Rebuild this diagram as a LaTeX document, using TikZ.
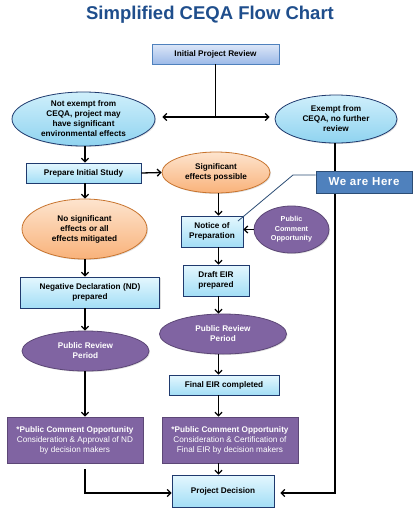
\documentclass[tikz,border=0pt]{standalone}
\usepackage{fontspec}
\setmainfont{Liberation Sans}
\usetikzlibrary{arrows.meta,shapes.geometric,shadows}

\definecolor{titleblue}{HTML}{1F4E8C}
\definecolor{navy}{HTML}{1F3A6E}
\definecolor{cyantop}{HTML}{E4F7FE}
\definecolor{cyanbot}{HTML}{A3DEF6}
\definecolor{inittop}{HTML}{DDE7F8}
\definecolor{initbot}{HTML}{9DBAE8}
\definecolor{initline}{HTML}{4F81BD}
\definecolor{skytop}{HTML}{CFEFFB}
\definecolor{skybot}{HTML}{8FD3F0}
\definecolor{orangetop}{HTML}{FDE4CE}
\definecolor{orangebot}{HTML}{F9B27A}
\definecolor{orangeline}{HTML}{C8742E}
\definecolor{plum}{HTML}{8064A2}
\definecolor{plumline}{HTML}{5C4776}
\definecolor{herefill}{HTML}{4F81BD}
\definecolor{hereline}{HTML}{2C4D75}

\tikzset{
  txt/.style={font=\fontsize{8.2}{10}\selectfont\bfseries, align=center, inner sep=0pt},
  shade/.style={drop shadow={opacity=0.25, shadow xshift=1pt, shadow yshift=-1pt}},
  cyanbox/.style={txt, shade, rectangle, draw=navy, line width=0.8pt, top color=cyantop, bottom color=cyanbot},
  initbox/.style={txt, shade, rectangle, draw=initline, line width=0.8pt, top color=inittop, bottom color=initbot},
  skyoval/.style={txt, shade, ellipse, draw=navy, line width=0.8pt, top color=skytop, bottom color=skybot},
  orangeoval/.style={txt, shade, ellipse, draw=orangeline, line width=0.8pt, top color=orangetop, bottom color=orangebot},
  plumoval/.style={txt, shade, ellipse, draw=plumline, line width=0.8pt, fill=plum, text=white},
  plumbox/.style={txt, shade, rectangle, draw=plumline, line width=0.8pt, fill=plum, text=white},
  herebox/.style={rectangle, draw=hereline, line width=0.8pt, fill=herefill, shade, inner sep=0pt, text=white,
                  font=\fontsize{11.5}{14}\selectfont\bfseries\addfontfeatures{LetterSpace=5}},
  tip/.tip={Straight Barb[length=3.5pt,width=7pt]},
  arr/.style={-tip, line width=1.3pt},
  line/.style={line width=1.3pt}
}

\begin{document}
\begin{tikzpicture}[x=1pt, y=-1pt]
    \useasboundingbox[fill=white] (0,0) rectangle (414,512);

    \node[font=\fontsize{18.5}{22}\selectfont\bfseries, text=titleblue] (title) at (210,15) {Simplified CEQA Flow Chart};

    \node[initbox, minimum width=127, minimum height=20] (init) at (215.5,54) {Initial Project Review};
    \node[skyoval, minimum width=143, minimum height=54] (notex) at (83.5,119) {Not exempt from\\CEQA, project may\\have significant\\environmental  effects};
    \node[skyoval, minimum width=122, minimum height=48] (exempt) at (336,119) {Exempt from\\CEQA, no further\\review};

    \node[cyanbox, minimum width=115, minimum height=20] (prep) at (83.5,173) {Prepare Initial  Study};
    \node[orangeoval, minimum width=108, minimum height=41] (signif) at (216,172.5) {Significant\\effects possible};
    \node[orangeoval, minimum width=125, minimum height=60] (nosig) at (84.5,229) {No significant\\effects  or all\\effects  mitigated};
    \node[cyanbox, minimum width=139, minimum height=31] (nd) at (90,292.5) {Negative Declaration  (ND)\\prepared};

    \node[cyanbox, minimum width=62, minimum height=31] (nop) at (212,231.5) {Notice of\\Preparation};
    \node[plumoval, minimum width=75, minimum height=47, font=\fontsize{7.2}{9.4}\selectfont\bfseries] (pco) at (291.5,229.5) {Public\\Comment\\Opportunity};

    \node[cyanbox, minimum width=66, minimum height=31] (draft) at (216,280.5) {Draft EIR\\prepared};
    \node[plumoval, minimum width=127, minimum height=40] (prl) at (85.5,351) {Public Review\\Period};
    \node[plumoval, minimum width=127, minimum height=40] (prr) at (223,334) {Public Review\\Period};
    \node[cyanbox, minimum width=110, minimum height=20] (final) at (224,385) {Final EIR completed};

    \node[plumbox, minimum width=136, minimum height=46] (cmtl) at (75,440)
        {*Public Comment Opportunity\\\mdseries Consideration  \& Approval of ND\\\mdseries by decision  makers};
    \node[plumbox, minimum width=136, minimum height=46] (cmtr) at (230,440)
        {*Public Comment Opportunity\\\mdseries Consideration  \& Certification of\\\mdseries Final EIR by decision makers};
    \node[cyanbox, minimum width=102, minimum height=32] (dec) at (223,491) {Project Decision};

    \coordinate (leftx) at (85,0);
    \coordinate (midx) at (218.5,0);
    \coordinate (rightx) at (335,0);
    \coordinate (split) at (215.5,117);
    \coordinate (lowleft) at (85,493);
    \coordinate (lowright) at (335,493);

    % top split
    \draw[line] (init.south) -- (split);
    \draw[line, tip-tip, shorten <=7pt, shorten >=5pt] (notex.east |- split) -- (exempt.west |- split);

    % left column
    \draw[arr] (notex.south -| leftx) -- (prep.north -| leftx);
    \draw[arr] (prep.south -| leftx) -- (nosig.north -| leftx);
    \draw[arr] (nosig.south -| leftx) -- (nd.north -| leftx);
    \draw[arr] (nd.south -| leftx) -- (prl.north -| leftx);
    \draw[arr] (prl.south -| leftx) -- (cmtl.north -| leftx);
    \draw[arr, shorten <=6pt] (cmtl.south -| leftx) -- (lowleft) -- (lowleft -| dec.west);

    % middle column
    \draw[arr] (prep.east) -- (signif.west);
    \draw[arr] (signif.south -| midx) -- (nop.north -| midx);
    \draw[arr] (pco.west) -- (nop.east |- pco.west);
    \draw[arr] (nop.south -| midx) -- (draft.north -| midx);
    \draw[arr] (draft.south -| midx) -- (prr.north -| midx);
    \draw[arr] (prr.south -| midx) -- (final.north -| midx);
    \draw[arr] (final.south -| midx) -- (cmtr.north -| midx);
    \draw[arr] (cmtr.south -| midx) -- (dec.north -| midx);

    % right column
    \draw[arr, shorten >=6pt] (exempt.south -| rightx) -- (lowright) -- (lowright -| dec.east);

    % callout, drawn last so it covers the right line
    \node[herebox, minimum width=96, minimum height=22] (here) at (364,182) {We are Here};
    \draw[hereline, line width=0.8pt] (here.west |- 0,175) -- (293,175) -- (238,221);
\end{tikzpicture}
\end{document}
